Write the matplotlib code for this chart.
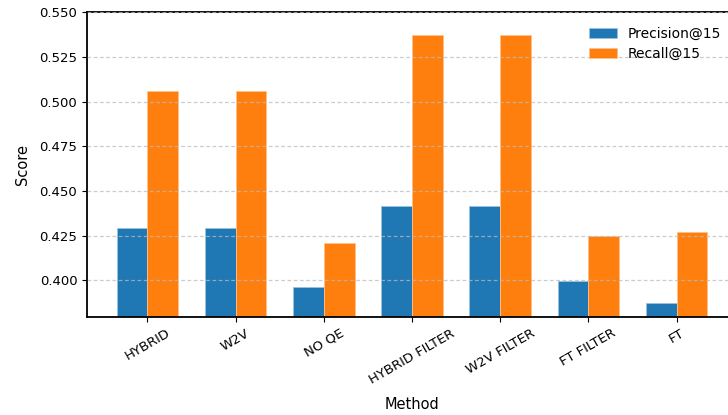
import numpy as np
import matplotlib
matplotlib.use("Agg")
import matplotlib.pyplot as plt

methods = ["HYBRID", "W2V", "NO QE", "HYBRID FILTER", "W2V FILTER", "FT FILTER", "FT"]
precision = [0.4295, 0.4295, 0.3964, 0.4419, 0.4419, 0.3998, 0.3874]
recall = [0.506, 0.506, 0.4207, 0.5375, 0.5375, 0.425, 0.4271]
y_ticks = [0.400, 0.425, 0.450, 0.475, 0.500, 0.525, 0.550]

plt.rcParams["font.family"] = "DejaVu Sans"
plt.rcParams["font.size"] = 9.5

W, H, DPI = 728, 415, 100
fig = plt.figure(figsize=(W / DPI, H / DPI), dpi=DPI)
ax = fig.add_axes([87 / W, 1 - 317 / H, (737 - 87) / W, (317 - 12.5) / H])

x = np.arange(len(methods))
width = 0.35
ax.bar(x - width / 2, precision, width, label="Precision@15", color="#1f77b4",
       edgecolor="#9cc3df", linewidth=0.6)
ax.bar(x + width / 2, recall, width, label="Recall@15", color="#ff7f0e",
       edgecolor="#ffc08a", linewidth=0.6)

ax.set_ylim(0.3795, 0.55)
ax.set_xlim(-0.685, 6.685)
ax.set_yticks(y_ticks)
ax.set_yticklabels([f"{v:.3f}" for v in y_ticks])
ax.set_xticks(x)
ax.set_xticklabels(methods, rotation=30, ha="center")
ax.set_xlabel("Method", fontsize=10.5, labelpad=8)
ax.set_ylabel("Score", fontsize=10.5, labelpad=7)

ax.set_axisbelow(False)
ax.yaxis.grid(True, linestyle=(0, (3, 2)), color="#bbbbbb", alpha=0.75, linewidth=0.9)
for s in ax.spines.values():
    s.set_linewidth(1.3)

ax.legend(loc="upper right", frameon=False, bbox_to_anchor=(0.995, 0.995),
          fontsize=10, handlelength=2.0, labelspacing=0.45)

fig.savefig("out.png", dpi=DPI)
